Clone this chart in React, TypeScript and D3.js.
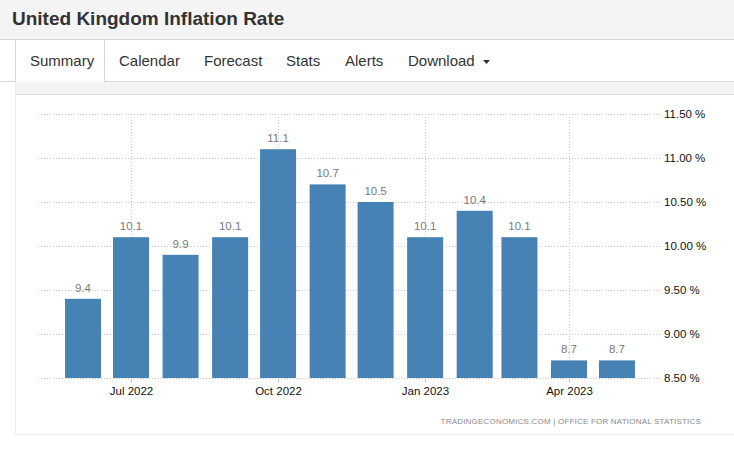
import React from "react";
import * as d3 from "d3";

const months: string[] = [
  "2022-06", "2022-07", "2022-08", "2022-09", "2022-10", "2022-11",
  "2022-12", "2023-01", "2023-02", "2023-03", "2023-04", "2023-05",
];
const values: number[] = [9.4, 10.1, 9.9, 10.1, 11.1, 10.7, 10.5, 10.1, 10.4, 10.1, 8.7, 8.7];
const yTicks: number[] = [8.5, 9.0, 9.5, 10.0, 10.5, 11.0, 11.5];
const xTickMonths: string[] = ["2022-07", "2022-10", "2023-01", "2023-04"];
const tabs: string[] = ["Summary", "Calendar", "Forecast", "Stats", "Alerts", "Download"];
const tabX: number[] = [30, 119, 204, 286, 345, 408];
const title = "United Kingdom Inflation Rate";
const source = "TRADINGECONOMICS.COM  |  OFFICE FOR NATIONAL STATISTICS";

const parse = d3.timeParse("%Y-%m");
const fmtX = d3.timeFormat("%b %Y");
const fmtY = (v: number) => d3.format(".2f")(v) + " %";

const W = 734;
const H = 453;
const FONT = "'Liberation Sans', Arial, Helvetica, sans-serif";

export default function App() {
  const x = d3
    .scaleTime()
    .domain([parse("2022-07")!, parse("2023-04")!])
    .range([131, 569]);
  const y = d3.scaleLinear().domain([8.5, 11.5]).range([378, 114]);
  const barW = 36;
  const plotLeft = 38;
  const plotRight = 660;

  return (
    <div style={{ position: "fixed", left: 0, top: 0, width: W, height: H, background: "#fff" }}>
      <svg width={W} height={H} style={{ display: "block" }} fontFamily={FONT}>
        {/* header */}
        <rect x={0} y={0} width={W} height={39.5} fill="#f4f4f4" />
        <line x1={0} x2={W} y1={39.5} y2={39.5} stroke="#d6d6d6" />
        <text x={12} y={25} fontSize={19} fontWeight="bold" fill="#333">
          {title}
        </text>
        {/* tabs */}
        <line x1={0} x2={15.5} y1={81.5} y2={81.5} stroke="#d6d6d6" />
        <line x1={104.5} x2={W} y1={81.5} y2={81.5} stroke="#d6d6d6" />
        <line x1={15.5} x2={15.5} y1={40} y2={82} stroke="#d6d6d6" />
        <line x1={104.5} x2={104.5} y1={40} y2={82} stroke="#d6d6d6" />
        {tabs.map((t, i) => (
          <text key={t} x={tabX[i]} y={66} fontSize={15} fill="#333">
            {t}
          </text>
        ))}
        <path d="M483,60 L490,60 L486.5,64 Z" fill="#333" />
        {/* band */}
        <rect x={16} y={82} width={W - 16} height={12} fill="#f3f3f3" />
        <line x1={16} x2={W} y1={94.5} y2={94.5} stroke="#dcdcdc" />
        <line x1={15.5} x2={15.5} y1={82} y2={434.5} stroke="#ececec" />
        <line x1={15.5} x2={W} y1={434.5} y2={434.5} stroke="#ececec" />

        {/* grid */}
        {yTicks.map((t) => (
          <line
            key={"g" + t}
            x1={plotLeft}
            x2={plotRight}
            y1={Math.round(y(t)) + 0.5}
            y2={Math.round(y(t)) + 0.5}
            stroke="#c8c8c8"
            strokeDasharray="1,2"
          />
        ))}
        {xTickMonths.map((m) => {
          const xx = Math.round(x(parse(m)!)) + 0.5;
          return (
            <g key={"v" + m}>
              <line x1={xx} x2={xx} y1={y(11.5)} y2={y(8.5)} stroke="#c8c8c8" strokeDasharray="1,2" />
              <line x1={xx} x2={xx} y1={y(8.5)} y2={y(8.5) + 5} stroke="#ccc" />
              <text x={xx} y={395} fontSize={11.5} textAnchor="middle" fill="#111">
                {fmtX(parse(m)!)}
              </text>
            </g>
          );
        })}
        {/* bars */}
        {months.map((m, i) => {
          const cx = x(parse(m)!);
          const top = y(values[i]);
          return (
            <g key={m}>
              <rect x={cx - barW / 2} y={top} width={barW} height={y(8.5) - top} fill="#4682b4" />
              <text x={cx} y={top - 7} fontSize={11.5} textAnchor="middle" fill="#7a7a7a">
                {values[i].toFixed(1)}
              </text>
            </g>
          );
        })}
        {/* y labels */}
        {yTicks.map((t) => (
          <text key={"l" + t} x={664} y={y(t) + 4} fontSize={11.5} fill="#111">
            {fmtY(t)}
          </text>
        ))}
        {/* source */}
        <text x={701} y={424} fontSize={8} textAnchor="end" fill="#8a8a8a" letterSpacing={0.2}>
          {source}
        </text>
      </svg>
    </div>
  );
}
